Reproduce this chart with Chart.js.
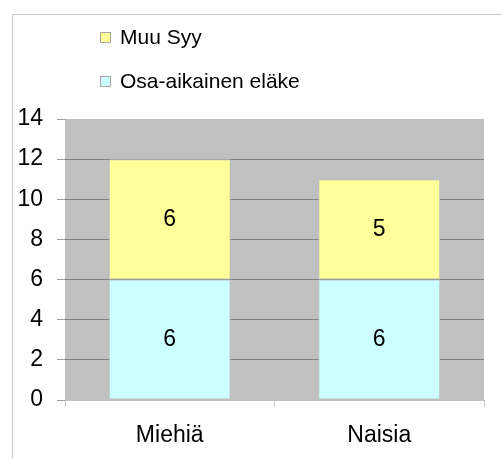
<!DOCTYPE html>
<html>
<head>
<meta charset="utf-8">
<script src="https://cdn.jsdelivr.net/npm/chart.js@4/dist/chart.umd.min.js"></script>
<style>
    html, body { margin: 0; padding: 0; background: #fff; }
    #wrap { width: 502px; height: 458px; position: relative; }
</style>
</head>
<body>
<div id="wrap"><canvas id="chart" width="502" height="458"></canvas></div>
<script>
// Chart data
const categories = ['Miehiä', 'Naisia'];
const seriesNames = ['Osa-aikainen eläke', 'Muu Syy'];
const osaAikainen = [6, 6];
const muuSyy = [6, 5];
const yMin = 0;
const yMax = 14;
const yStep = 2;

const FONT = '"Liberation Sans", Arial, sans-serif';

// gray plot area + outer frame
const backgroundPlugin = {
    id: 'background',
    beforeDraw(chart) {
        const ctx = chart.ctx;
        const a = chart.chartArea;
        ctx.save();
        ctx.fillStyle = '#fff';
        ctx.fillRect(0, 0, chart.width, chart.height);
        ctx.strokeStyle = '#c8c8c8';
        ctx.lineWidth = 1;
        ctx.beginPath();
        ctx.moveTo(12.5, chart.height);
        ctx.lineTo(12.5, 14.5);
        ctx.lineTo(chart.width, 14.5);
        ctx.stroke();
        ctx.fillStyle = '#c0c0c0';
        ctx.fillRect(a.left, a.top, a.right - a.left, a.bottom - a.top);
        ctx.restore();
    }
};

// value labels in the middle of each bar segment
const valueLabels = {
    id: 'valueLabels',
    afterDatasetsDraw(chart) {
        const ctx = chart.ctx;
        ctx.save();
        ctx.font = '23px ' + FONT;
        ctx.fillStyle = '#000';
        ctx.textAlign = 'center';
        ctx.textBaseline = 'middle';
        chart.data.datasets.forEach((ds, i) => {
            chart.getDatasetMeta(i).data.forEach((bar, j) => {
                ctx.fillText(ds.data[j], bar.x, (bar.y + bar.base) / 2);
            });
        });
        ctx.restore();
    }
};

// vertical legend, top series first
const sideLegend = {
    id: 'sideLegend',
    afterDraw(chart) {
        const ctx = chart.ctx;
        const items = chart.data.datasets.slice().reverse();
        ctx.save();
        ctx.font = '21px ' + FONT;
        ctx.textBaseline = 'middle';
        items.forEach((ds, i) => {
            const y = 37 + i * 44;
            ctx.fillStyle = ds.backgroundColor;
            ctx.fillRect(100, y - 5, 11, 11);
            ctx.strokeStyle = '#a8a8a8';
            ctx.lineWidth = 1;
            ctx.strokeRect(100.5, y - 4.5, 10, 10);
            ctx.fillStyle = '#000';
            ctx.fillText(ds.label, 120, y + 1);
        });
        ctx.restore();
    }
};

new Chart(document.getElementById('chart').getContext('2d'), {
    type: 'bar',
    data: {
        labels: categories,
        datasets: [{
            label: seriesNames[0],
            data: osaAikainen,
            backgroundColor: '#ccffff',
            borderColor: '#c0c0c0',
            borderWidth: 1,
            borderSkipped: false
        }, {
            label: seriesNames[1],
            data: muuSyy,
            backgroundColor: '#ffff99',
            borderColor: '#c0c0c0',
            borderWidth: 1,
            borderSkipped: false
        }]
    },
    options: {
        responsive: false,
        animation: false,
        devicePixelRatio: 1,
        layout: {
            padding: { top: 119, right: 18, bottom: 0, left: 0 }
        },
        datasets: {
            bar: {
                categoryPercentage: 1,
                barPercentage: 0.582
            }
        },
        plugins: {
            legend: { display: false },
            tooltip: { enabled: false }
        },
        scales: {
            x: {
                stacked: true,
                afterFit(scale) { scale.height = 58; },
                border: { display: true, color: '#c0c0c0' },
                grid: {
                    offset: true,
                    drawOnChartArea: false,
                    tickLength: 7,
                    color: '#c8c8c8'
                },
                ticks: {
                    color: '#000',
                    padding: 15,
                    font: { family: FONT, size: 23 }
                }
            },
            y: {
                stacked: true,
                min: yMin,
                max: yMax,
                afterFit(scale) { scale.width = 65; },
                border: { display: false },
                grid: {
                    color: (c) => (c.tick && (c.tick.value === yMax || c.tick.value === yMin)) ? 'rgba(0,0,0,0)' : '#808080',
                    tickColor: '#a0a0a0',
                    tickLength: 8
                },
                ticks: {
                    stepSize: yStep,
                    color: '#000',
                    padding: 14,
                    font: { family: FONT, size: 23 }
                }
            }
        }
    },
    plugins: [backgroundPlugin, valueLabels, sideLegend]
});
</script>
</body>
</html>
